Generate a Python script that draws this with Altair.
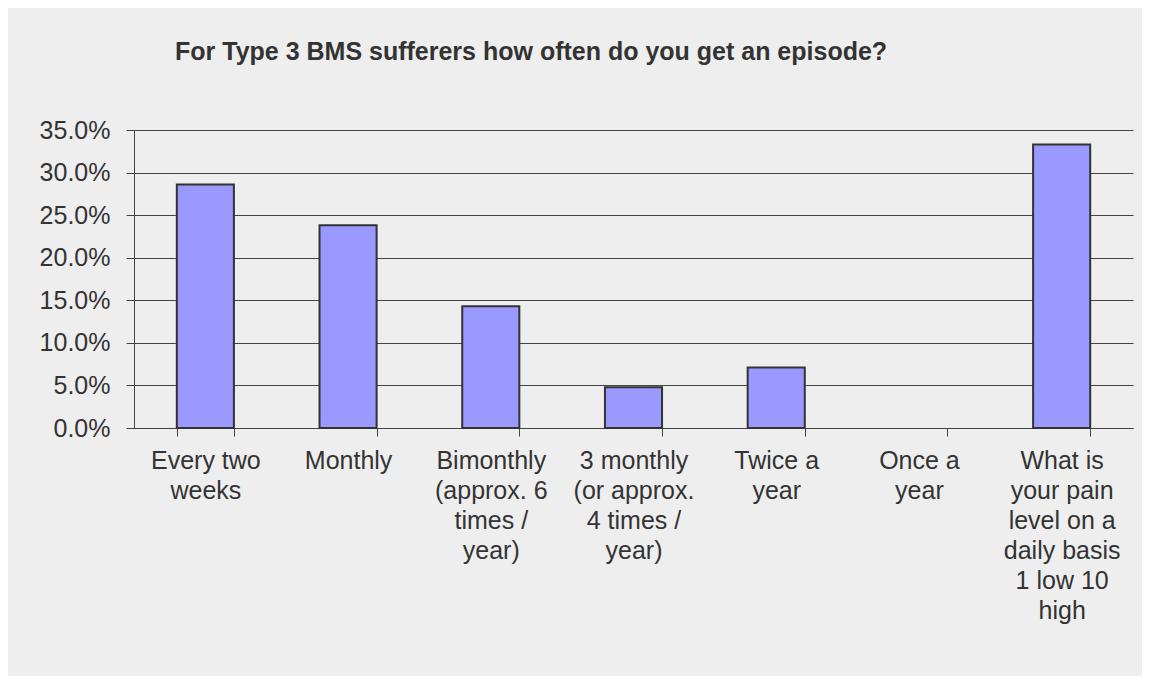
import altair as alt
import pandas as pd

categories = [
    "Every two\nweeks",
    "Monthly",
    "Bimonthly\n(approx. 6\ntimes /\nyear)",
    "3 monthly\n(or approx.\n4 times /\nyear)",
    "Twice a\nyear",
    "Once a\nyear",
    "What is\nyour pain\nlevel on a\ndaily basis\n1 low 10\nhigh",
]
values = [0.286, 0.238, 0.143, 0.048, 0.071, 0.0, 0.333]
y_ticks = [0, 0.05, 0.10, 0.15, 0.20, 0.25, 0.30, 0.35]

df = pd.DataFrame({"category": categories, "value": values})

FONT = "Liberation Sans"
TEXT = "#333333"
LINE = "#444444"

bars = alt.Chart(df).transform_filter(
    alt.datum.value > 0
).mark_bar(
    color="#9999FF", stroke="#333333", strokeWidth=2
).encode(
    x=alt.X(
        "category:N",
        scale=alt.Scale(domain=categories, paddingInner=0.6, paddingOuter=0.3),
        axis=alt.Axis(
            title=None,
            labelAngle=0,
            labelExpr="split(datum.label, '\\n')",
            labelFont=FONT,
            labelFontSize=25,
            labelColor=TEXT,
            labelLineHeight=30,
            labelPadding=12,
            labelBaseline="top",
            labelLimit=200,
            tickBand="extent",
            tickSize=8,
            tickColor=LINE,
            domainColor=LINE,
            grid=False,
        ),
    ),
    y=alt.Y(
        "value:Q",
        scale=alt.Scale(domain=[0, 0.35], nice=False),
        axis=alt.Axis(
            title=None,
            values=y_ticks,
            format=".1%",
            labelFont=FONT,
            labelFontSize=25,
            labelColor=TEXT,
            labelPadding=16,
            tickSize=8,
            tickColor=LINE,
            domainColor=LINE,
            grid=True,
            gridColor=LINE,
            gridOpacity=1,
            gridWidth=1,
        ),
    ),
)

chart = bars.properties(
    width=999,
    height=298,
    autosize=alt.AutoSizeParams(type="none"),
    padding={"left": 126, "top": 122, "right": 9, "bottom": 248},
    background="#EEEEEE",
    title=alt.TitleParams(
        "For Type 3 BMS sufferers how often do you get an episode?",
        font=FONT,
        fontSize=25,
        fontWeight="bold",
        color=TEXT,
        anchor="start",
        frame="group",
        dx=41,
        offset=53,
    ),
).configure_view(stroke=None)

chart.save("out.html", embed_options={"renderer": "svg", "actions": False})
